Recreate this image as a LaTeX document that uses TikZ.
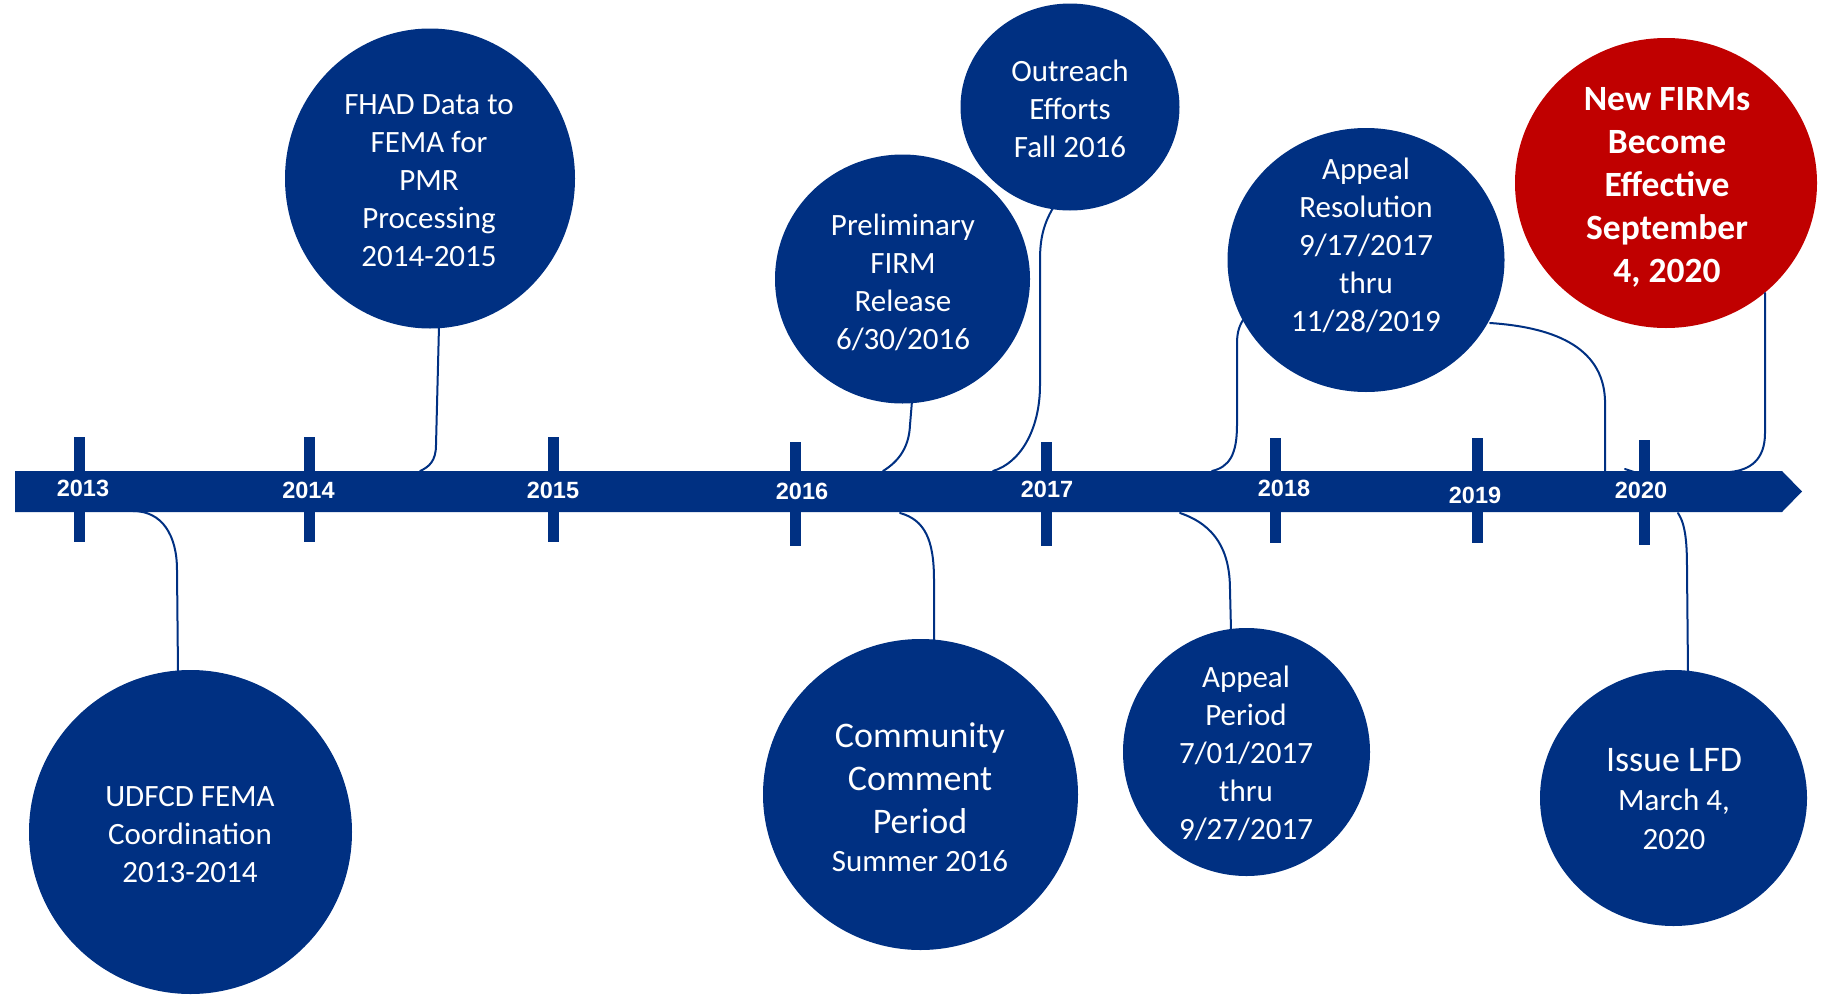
\documentclass[tikz,border=0pt]{standalone}
\usepackage{fontspec}
\setmainfont{Carlito}
\newfontfamily\yearfont{Liberation Sans}
\usetikzlibrary{shapes.geometric}
\definecolor{navy}{RGB}{0,48,130}
\definecolor{firmred}{RGB}{192,0,0}
\begin{document}
\begin{tikzpicture}[x=1pt,y=-1pt,
  evt/.style={ellipse, fill=navy, draw=none, inner sep=0pt},
  evtred/.style={ellipse, fill=firmred, draw=none, inner sep=0pt},
  etext/.style={text=white, align=center, inner sep=0pt, font=\fontsize{31}{38}\selectfont},
  bigtext/.style={text=white, align=center, inner sep=0pt, font=\fontsize{36}{43}\selectfont},
  redtext/.style={text=white, align=center, inner sep=0pt, font=\bfseries\fontsize{35.5}{43}\selectfont},
  yearlab/.style={text=white, inner sep=0pt, font=\yearfont\bfseries\fontsize{23.5}{28}\selectfont},
  tickmark/.style={fill=navy, draw=none},
  conn/.style={draw=navy, line width=2pt, line cap=round}
]
\useasboundingbox (0,0) rectangle (1821,996);

% ---- timeline ticks ----
\fill[tickmark] (73.5,437) rectangle (84.5,542);
\fill[tickmark] (303.5,437) rectangle (314.5,542);
\fill[tickmark] (547.5,437) rectangle (558.5,542);
\fill[tickmark] (789.5,442) rectangle (800.5,546);
\fill[tickmark] (1040.5,442) rectangle (1051.5,546);
\fill[tickmark] (1269.5,438) rectangle (1280.5,543);
\fill[tickmark] (1471.5,438) rectangle (1482.5,543);
\fill[tickmark] (1638.5,440) rectangle (1649.5,545);

% ---- timeline bar (arrow) ----
\fill[navy] (15,471) -- (1782,471) -- (1802,491.5) -- (1782,512) -- (15,512) -- cycle;

% ---- year labels ----
\node[yearlab] (y2013) at (83,488) {2013};
\node[yearlab] (y2014) at (308.5,490) {2014};
\node[yearlab] (y2015) at (553,490) {2015};
\node[yearlab] (y2016) at (802,491) {2016};
\node[yearlab] (y2017) at (1047,489) {2017};
\node[yearlab] (y2018) at (1284,488) {2018};
\node[yearlab] (y2019) at (1475,495) {2019};
\node[yearlab] (y2020) at (1641,490) {2020};

% ---- connector end points on the bar ----
\coordinate (bUdfcd) at (133,511);
\coordinate (bFhad) at (420,471);
\coordinate (bPrelim) at (883,471);
\coordinate (bOutreach) at (993,471);
\coordinate (bCommunity) at (900,513);
\coordinate (bAppealP) at (1180,513);
\coordinate (bAppealRl) at (1212,471);
\coordinate (bAppealRr) at (1605,473);
\coordinate (bRed) at (1730,472);
\coordinate (bLfd) at (1678,513);
\coordinate (stubA) at (1625,469);
\coordinate (stubB) at (1637,473);

% ---- event circles ----
\node[evt, minimum width=323pt, minimum height=324pt] (udfcd) at (190.5,832) {};
\node[evt, minimum width=290pt, minimum height=300pt] (fhad) at (430,178.5) {};
\node[evt, minimum width=255pt, minimum height=249pt] (prelim) at (902.5,279) {};
\node[evt, minimum width=219pt, minimum height=207pt] (outreach) at (1070,107) {};
\node[evt, minimum width=277pt, minimum height=264pt] (appealr) at (1366,260) {};
\node[evtred, minimum width=302pt, minimum height=290pt] (newfirm) at (1666,183) {};
\node[evt, minimum width=315pt, minimum height=311pt] (community) at (920.5,794.5) {};
\node[evt, minimum width=247pt, minimum height=248pt] (appealp) at (1246.5,752) {};
\node[evt, minimum width=267pt, minimum height=256pt] (lfd) at (1673.5,798) {};

% ---- connector points on circles ----
\coordinate (cUdfcd) at (178,672);
\coordinate (cFhad) at (439,326);
\coordinate (cPrelim) at (912,401);
\coordinate (cOutreach) at (1053,208);
\coordinate (cCommunity) at (934,641);
\coordinate (cAppealP) at (1231,630);
\coordinate (cAppealRl) at (1243,320);
\coordinate (cAppealRr) at (1490,323);
\coordinate (cRed) at (1765,293);
\coordinate (cLfd) at (1688,672);

% ---- connectors ----
\draw[conn] (bUdfcd) .. controls (162,511) and (177,535) .. (177,570) -- (cUdfcd);
\draw[conn] (cFhad) -- (436,445) .. controls (436,461) and (429,467) .. (bFhad);
\draw[conn] (cPrelim) -- (910,425) .. controls (909,450) and (896,463) .. (bPrelim);
\draw[conn] (cOutreach) .. controls (1043,225) and (1040,240) .. (1040,260) -- (1040,385)
   .. controls (1040,430) and (1020,463) .. (bOutreach);
\draw[conn] (bCommunity) .. controls (925,520) and (934,540) .. (934,580) -- (cCommunity);
\draw[conn] (bAppealP) .. controls (1215,525) and (1230,550) .. (1230,590) -- (cAppealP);
\draw[conn] (cAppealRl) .. controls (1238,328) and (1237,335) .. (1237,345) -- (1237,425)
   .. controls (1237,455) and (1229,467) .. (bAppealRl);
\draw[conn] (cAppealRr) .. controls (1550,327) and (1603,345) .. (1605,400) -- (bAppealRr);
\draw[conn] (cRed) -- (1765,433) .. controls (1765,460) and (1750,470) .. (bRed);
\draw[conn] (bLfd) .. controls (1686,525) and (1687,545) .. (1687,570) -- (cLfd);
\draw[conn] (stubA) -- (stubB);

% ---- circle texts ----
\node[etext] (udfcdT) at (190,835) {UDFCD FEMA\\Coordination\\2013-2014};
\node[etext] (fhadT) at (429,181) {FHAD Data to\\FEMA for\\PMR\\Processing\\2014-2015};
\node[etext] (prelimT) at (903,282) {Preliminary\\FIRM\\Release\\6/30/2016};
\node[etext] (outreachT) at (1070,108.5) {Outreach\\Efforts\\Fall 2016};
\node[etext] (appealrT) at (1366,245) {Appeal\\Resolution\\9/17/2017\\thru\\11/28/2019};
\node[redtext] (newfirmT) at (1667,187) {New FIRMs\\Become\\Effective\\September\\4, 2020};
\node[bigtext] (communityT) at (920,797.5) {Community\\Comment\\Period\\[-5pt]{\fontsize{31}{38}\selectfont Summer 2016}};
\node[bigtext] (lfdT) at (1674,799.5) {Issue LFD\\[-4pt]{\fontsize{31}{38}\selectfont March 4,}\\[-4pt]{\fontsize{31}{38}\selectfont 2020}};
\node[etext] (appealpT) at (1246,753.5) {Appeal\\Period\\7/01/2017\\thru\\9/27/2017};
\end{tikzpicture}
\end{document}
